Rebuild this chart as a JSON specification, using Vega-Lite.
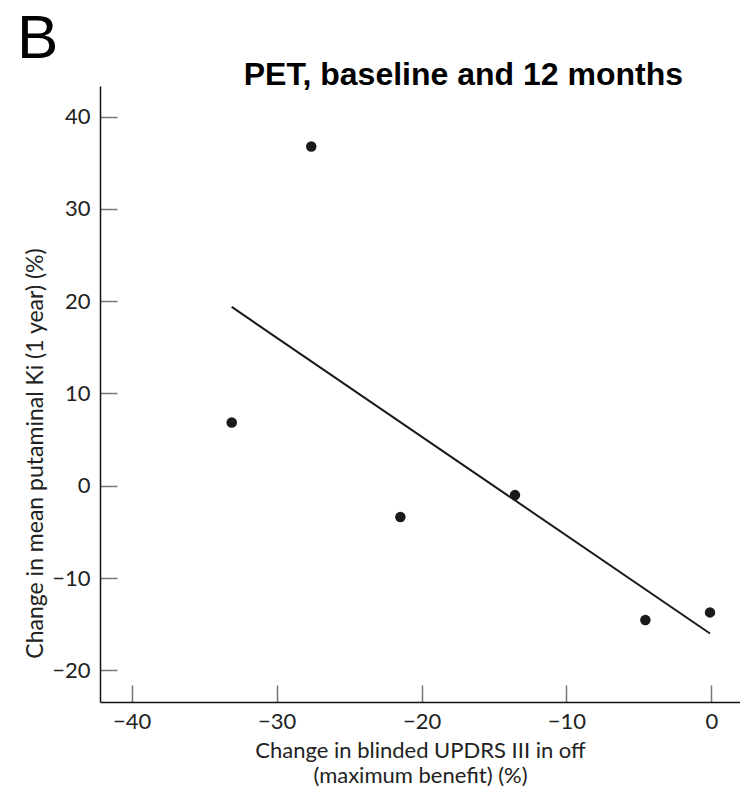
{
  "$schema": "https://vega.github.io/schema/vega-lite/v6.json",
  "background": "white",
  "padding": {"left": 17, "top": 8, "right": 0, "bottom": 5},
  "title": {"text": "B", "anchor": "start", "frame": "group", "font": "Liberation Sans", "fontSize": 62, "fontWeight": "normal", "color": "#000", "baseline": "alphabetic", "offset": -61, "dx": -83},
  "config": {"view": {"stroke": null}},
  "datasets": {
    "pts": [
      {"updrs": -27.61, "ki": 36.77},
      {"updrs": -33.10, "ki": 6.85},
      {"updrs": -21.46, "ki": -3.39},
      {"updrs": -13.55, "ki": -1.01},
      {"updrs": -4.55, "ki": -14.54},
      {"updrs": -0.09, "ki": -13.72}
    ]
  },
  "vconcat": [
    {
      "width": 640,
      "height": 616,
      "title": {"text": "PET, baseline and 12 months", "anchor": "end", "frame": "group", "font": "Liberation Sans", "fontSize": 32, "fontWeight": "bold", "color": "#000", "baseline": "alphabetic", "offset": -31, "dx": -57},
      "data": {"name": "pts"},
      "encoding": {
        "x": {"field": "updrs", "type": "quantitative",
          "scale": {"domain": [-42.19, 1.98], "nice": false, "zero": false},
          "axis": {"values": [-40, -30, -20, -10, 0], "grid": false, "tickSize": -17, "tickWidth": 1.5, "tickColor": "#777", "domainColor": "#111", "domainWidth": 1.5, "labelFont": "Lato", "labelFontSize": 22, "labelColor": "#222", "labelPadding": 26, "labelBaseline": "top", "labelFlush": false,
            "title": ["Change in blinded UPDRS III in off", "(maximum benefit) (%)"], "titleFont": "Lato", "titleFontSize": 22, "titleFontWeight": "normal", "titleColor": "#222", "titleBaseline": "alphabetic", "titleY": 55, "titleLineHeight": 25}},
        "y": {"field": "ki", "type": "quantitative",
          "scale": {"domain": [-23.43, 43.32], "nice": false, "zero": false},
          "axis": {"values": [-20, -10, 0, 10, 20, 30, 40], "grid": false, "tickSize": -17, "tickWidth": 1.5, "tickColor": "#777", "domainColor": "#111", "domainWidth": 1.5, "labelFont": "Lato", "labelFontSize": 22, "labelColor": "#222", "labelPadding": 27, "labelFlush": false,
            "title": "Change in mean putaminal Ki (1 year) (%)", "titleFont": "Lato", "titleFontSize": 23, "titleFontWeight": "normal", "titleColor": "#222", "titleBaseline": "alphabetic", "titleX": -58, "titleY": 367}}
      },
      "layer": [
        {"mark": {"type": "point", "filled": true, "size": 110, "color": "#1a1a1a", "opacity": 1}},
        {"transform": [{"regression": "ki", "on": "updrs"}],
         "mark": {"type": "line", "color": "#1a1a1a", "strokeWidth": 2}}
      ]
    }
  ]
}
